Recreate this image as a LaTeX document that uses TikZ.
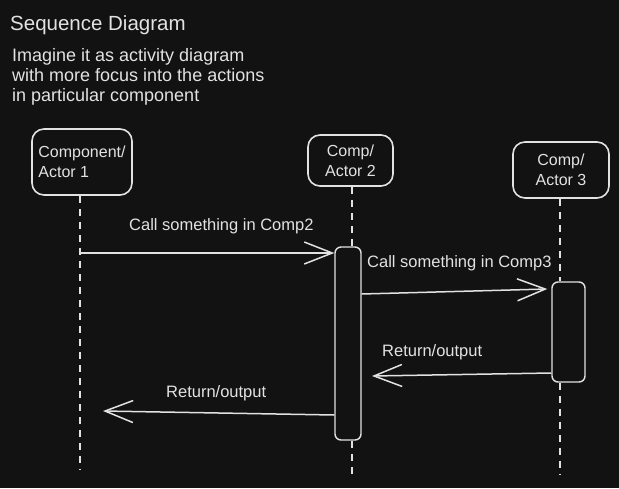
\documentclass[tikz,border=0pt]{standalone}
\usepackage{fontspec}
\setmainfont{Liberation Sans}
\usetikzlibrary{arrows.meta, positioning}
\definecolor{bg}{HTML}{121212}
\definecolor{ink}{HTML}{E2E2E2}
\tikzset{
  actor/.style={draw=ink, line width=1.6pt, rounded corners=12pt, text=ink,
    font=\fontsize{16}{20}\selectfont, align=center},
  activation/.style={draw=ink, line width=1.4pt, rounded corners=6pt, fill=bg},
  lifeline/.style={draw=ink, line width=1.6pt, dash pattern=on 7pt off 6pt},
  msg/.style={draw=ink, line width=1.5pt, -{Straight Barb[length=28pt,width=22pt]}},
  msglabel/.style={text=ink, font=\fontsize{16.5}{18}\selectfont, inner sep=0pt, anchor=base west},
}

\begin{document}
\begin{tikzpicture}[x=1pt, y=-1pt]
  \fill[bg] (0,0) rectangle (619,488);
  \node[anchor=base west, text=ink, font=\fontsize{20.5}{24}\selectfont, inner sep=0pt] (title) at (10,30) {Sequence Diagram};
  \node[anchor=north west, text=ink, align=left, font=\fontsize{18}{20}\selectfont, inner sep=0pt] (intro) at (12,48)
    {Imagine it as activity diagram\\with more focus into the actions\\in particular component};

  \node[actor, minimum width=100pt, minimum height=66pt, align=left] (a1) at (82,162) {Component/\\Actor 1};
  \node[actor, minimum width=85pt, minimum height=51pt] (a2) at (350.5,160.5) {Comp/\\Actor 2};
  \node[actor, minimum width=96pt, minimum height=56pt] (a3) at (561,170) {Comp/\\Actor 3};

  \node[activation, minimum width=26pt, minimum height=193pt] (act2) at (348,343.5) {};
  \node[activation, minimum width=33pt, minimum height=100pt] (act3) at (568.5,332) {};

  \coordinate (end1) at (80,470);
  \coordinate (end2) at (352,477);
  \coordinate (end3) at (560,475);
  \draw[lifeline] (end1 |- a1.south) -- (end1);
  \draw[lifeline] (end2 |- a2.south) -- (end2 |- act2.north);
  \draw[lifeline] (end2 |- act2.south) -- (end2);
  \draw[lifeline] (end3 |- a3.south) -- (end3 |- act3.north);
  \draw[lifeline] (end3 |- act3.south) -- (end3);

  % messages
  \coordinate (call1) at (80,253);
  \coordinate (ret1) at (372,376);
  \coordinate (ret2) at (103,411);
  \draw[msg] (call1) -- (act2.west |- call1);
  \draw[msg] ([yshift=49.5pt]act2.east) -- ([xshift=-4pt,yshift=43pt]act3.west);
  \draw[msg] ([yshift=-41pt]act3.west) -- (ret1);
  \draw[msg] ([yshift=-71.5pt]act2.west) -- (ret2);

  \node[msglabel] (l1) at (129,230) {Call something in Comp2};
  \node[msglabel] (l2) at (367,267) {Call something in Comp3};
  \node[msglabel] (l3) at (382,356) {Return/output};
  \node[msglabel] (l4) at (166,397) {Return/output};
\end{tikzpicture}
\end{document}
